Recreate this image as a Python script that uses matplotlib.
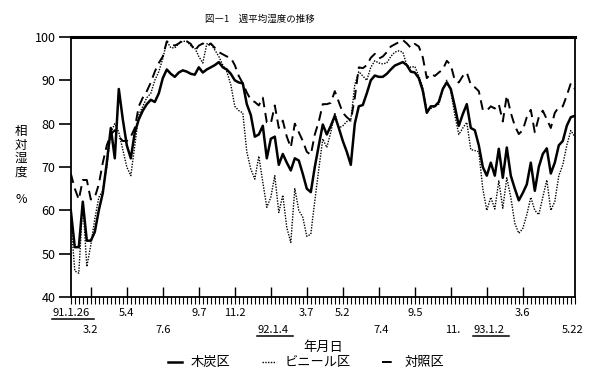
import matplotlib
matplotlib.use('Agg')
import matplotlib.pyplot as plt
from matplotlib.ticker import FixedLocator, MultipleLocator
from matplotlib.lines import Line2D

plt.rcParams['font.family'] = ['Noto Sans CJK JP', 'DejaVu Sans']

# 週平均湿度 (%)、91.1.26 から 93.5.22 まで週ごと
mokutan = [60, 51.5, 51.5, 62, 53, 53, 55, 60, 64, 71,
           79, 72, 88, 81, 75, 72, 78, 81, 83, 84.5,
           85.5, 85, 87, 90.5, 92.5, 91.5, 90.8, 91.8, 92.3, 92,
           91.5, 91.3, 93, 91.8, 92.5, 93, 93.5, 94.2, 93, 92.5,
           91.5, 90, 89.5, 89.3, 84.5, 82, 77, 77.5, 79.5, 72,
           76.5, 77, 70.5, 73, 71, 69.2, 72, 71.5, 68.4, 65,
           64.2, 70, 75, 79.8, 77.5, 79.5, 81.8, 79, 76, 73.5,
           70.5, 80, 84, 84.3, 87, 90, 91.1, 90.8, 90.8, 91.5,
           92.5, 93.4, 93.8, 94.2, 93.5, 92, 91.8, 90.5, 87.6, 82.5,
           84, 84, 85, 88, 89.5, 88, 84, 79.5, 82.2, 84.5,
           79, 78.5, 75, 70, 68, 71, 68, 74.2, 67.5, 74.5,
           68, 65, 62.3, 64, 66, 71, 64.5, 70, 73, 74.3,
           68.5, 71, 75, 76, 79.5, 81.5, 81.8]

vinyl = [58, 46, 45.5, 62, 47, 52, 58, 63, 64.5, 70,
         78, 80, 78, 74, 70, 68, 75, 82, 84, 86,
         87, 90, 92, 95, 99, 97.5, 97.5, 98.5, 99, 99,
         98, 97.5, 95.5, 94, 98.4, 98.5, 97, 95.5, 93.5, 92,
         89, 84, 83, 82.5, 73.5, 69.5, 67.2, 72.5, 66.5, 60.7,
         63, 68, 59.5, 63.5, 56, 52.6, 65, 60, 58.4, 54,
         54.5, 62.2, 69.5, 76.5, 74.5, 78, 82.5, 79, 79.5, 80.5,
         80.8, 89, 92, 91, 90, 93, 94.5, 94, 93.8, 94,
         95.5, 96.5, 96.8, 96.5, 93.5, 93, 93.2, 91, 88.4, 83,
         83.5, 84, 84.5, 88, 90, 87.5, 82, 77.5, 79, 80.3,
         74, 73.8, 73.5, 65, 60, 63, 60.3, 66.8, 60.5, 67.5,
         63, 57, 54.7, 55.8, 59, 63, 60, 59, 63, 67,
         60, 62, 68, 70.5, 75, 78.4, 77]

taisho = [68.5, 65, 62.5, 67, 67, 62.5, 63, 66, 71, 75,
          77.5, 78.5, 77, 76, 76, 77, 79, 84, 86, 87.5,
          89.5, 92, 94, 95.5, 99, 98.5, 98, 98.5, 99.3, 99,
          98.4, 96.8, 98, 98.5, 97.8, 98.5, 97.5, 96.5, 96, 95.5,
          95.2, 93.5, 91, 89.3, 87.2, 85.5, 85, 84.2, 86, 80.3,
          80, 84.2, 79, 80.7, 77, 74.5, 80, 78, 76, 73.5,
          72.8, 77.5, 80.5, 84.5, 84.5, 84.8, 87.5, 85, 82.5, 81.5,
          80.7, 86, 93, 92.8, 93.5, 95.2, 96.1, 95, 95.5, 96.5,
          97.8, 98.3, 98.8, 99.3, 98.5, 97.5, 98.4, 97.8, 95.3, 90.5,
          91.5, 91, 91.8, 92.5, 94.5, 93.5, 90, 89.5, 91, 91.8,
          89, 88.4, 87.5, 83.2, 83, 84, 83.5, 84.5, 80.5, 86.5,
          82.5, 79.5, 77.6, 78.5, 81.5, 83.2, 78, 81.5, 83, 81,
          79, 82.5, 83.8, 84, 86.5, 89.3, 88]

weeks = list(range(len(mokutan)))

# 目盛ラベル（週番号の位置）
upper_labels = ['91.1.26', '5.4', '9.7', '11.2', '3.7', '5.2', '9.5', '3.6']
upper_pos = [0, 14, 32, 41, 59, 68, 86, 113]
lower_labels = ['3.2', '7.6', '92.1.4', '7.4', '11.', '93.1.2', '5.22']
lower_pos = [5, 23, 50.5, 77.5, 95.5, 104.5, 125.5]
underlined = ['91.1.26', '92.1.4', '93.1.2']
major_weeks = [5 + 9 * k for k in range(13)]

fig = plt.figure(figsize=(6, 3.72), dpi=100)
ax = fig.add_axes([0.118, 0.2016, 0.84, 0.699])

ax.plot(weeks, mokutan, color='black', lw=1.8, ls='-', label='木炭区')
ax.plot(weeks, vinyl, color='black', lw=1.0, ls=(0, (1, 1)), label='ビニール区')
ax.plot(weeks, taisho, color='black', lw=1.4, ls=(0, (5, 3)), label='対照区')

ax.set_xlim(0, 126)
ax.set_ylim(40, 100)
ax.set_yticks(range(40, 101, 10))
ax.tick_params(axis='y', direction='out', length=9, width=1.2, labelsize=9, pad=2)

ax.xaxis.set_major_locator(FixedLocator(major_weeks))
ax.xaxis.set_minor_locator(MultipleLocator(1))
ax.xaxis.remove_overlapping_locs = False
ax.tick_params(axis='x', which='major', direction='in', length=7, width=1.0, labelbottom=False)
ax.tick_params(axis='x', which='minor', direction='out', length=5, width=0.8)

for side in ['left', 'bottom', 'right']:
    ax.spines[side].set_linewidth(1.3)
ax.spines['top'].set_linewidth(2.2)

trans = ax.get_xaxis_transform()
texts = []
for lab, p in zip(upper_labels, upper_pos):
    texts.append(ax.text(p, -0.062, lab, transform=trans, ha='center', va='center', fontsize=8))
for lab, p in zip(lower_labels, lower_pos):
    texts.append(ax.text(p, -0.128, lab, transform=trans, ha='center', va='center', fontsize=8))

fig.canvas.draw()
renderer = fig.canvas.get_renderer()
for t in texts:
    if t.get_text() in underlined:
        bb = t.get_window_extent(renderer)
        y = bb.y0 - 1
        fig.add_artist(Line2D([bb.x0 / 600, (bb.x1 + 5) / 600], [y / 372, y / 372],
                              transform=fig.transFigure, color='black', lw=1.1))

fig.text(0.538, 0.067, '年月日', ha='center', va='center', fontsize=9.5)
fig.text(0.433, 0.949, '図―1　週平均湿度の推移', ha='center', va='center', fontsize=6.8)
fig.text(0.035, 0.555, '相\n対\n湿\n度\n\n%', ha='center', va='center', fontsize=9, linespacing=1.05)

fig.legend(loc='center', bbox_to_anchor=(0.51, 0.025), ncol=3, frameon=False,
           fontsize=9.5, handlelength=1.1, columnspacing=2.4, handletextpad=0.6)

fig.savefig('out.png', dpi=100)
